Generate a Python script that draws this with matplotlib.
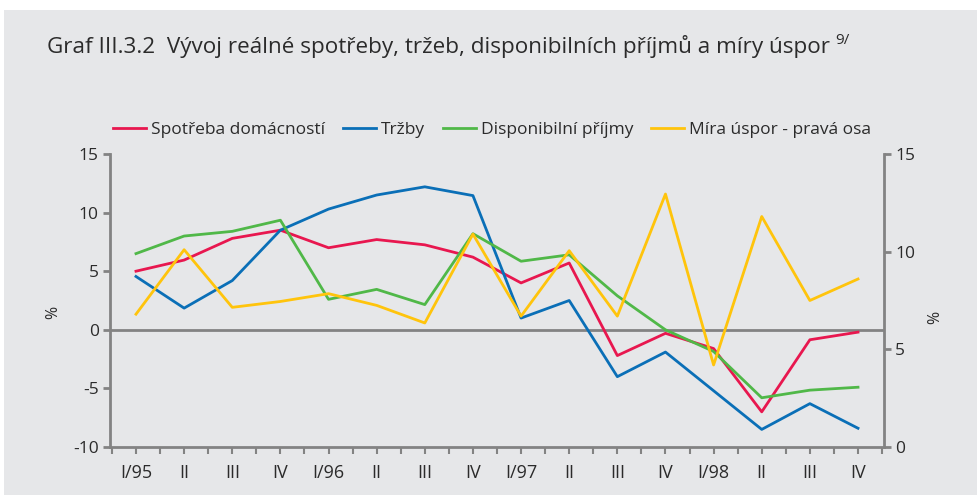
import matplotlib
matplotlib.use("Agg")
import matplotlib.pyplot as plt
from matplotlib import font_manager
from matplotlib.patches import Rectangle

# data
quarters = ["I/95", "II", "III", "IV", "I/96", "II", "III", "IV",
            "I/97", "II", "III", "IV", "I/98", "II", "III", "IV"]
spotreba = [5.0, 5.95, 7.8, 8.5, 7.0, 7.7, 7.25, 6.2,
            4.0, 5.7, -2.2, -0.3, -1.6, -7.0, -0.85, -0.2]
trzby = [4.55, 1.85, 4.2, 8.5, 10.3, 11.5, 12.2, 11.45,
         1.0, 2.5, -4.0, -1.9, -5.2, -8.5, -6.3, -8.4]
prijmy = [6.5, 8.0, 8.4, 9.35, 2.6, 3.45, 2.15, 8.2,
          5.85, 6.4, 2.9, 0.0, -1.85, -5.8, -5.15, -4.9]
mira_uspor = [6.8, 10.1, 7.15, 7.45, 7.85, 7.25, 6.35, 10.9,
              6.7, 10.05, 6.7, 12.95, 4.2, 11.8, 7.5, 8.6]

left_ticks = [-10, -5, 0, 5, 10, 15]
right_ticks = [0, 5, 10, 15]

RED = "#e8174f"
BLUE = "#0a6fb7"
GREEN = "#50b848"
YELLOW = "#ffc40c"
BG = "#e6e7e9"
AXIS = "#838383"
TEXT = "#2b2b2b"

installed = {f.name for f in font_manager.fontManager.ttflist}
family = [f for f in ["Liberation Sans Narrow", "Open Sans", "DejaVu Sans"] if f in installed]
plt.rcParams["font.family"] = family + ["DejaVu Sans"]
plt.rcParams["axes.unicode_minus"] = False

fig = plt.figure(figsize=(9.78, 4.95), dpi=100, facecolor=BG)
fig.patches.append(Rectangle((0, 1 - 10 / 495), 1, 10 / 495, transform=fig.transFigure,
                             facecolor="white", edgecolor="none", zorder=0))
fig.patches.append(Rectangle((0, 0), 4 / 978, 1, transform=fig.transFigure,
                             facecolor="white", edgecolor="none", zorder=0))

ax = fig.add_axes([110 / 978, 1 - 447 / 495, (884 - 110) / 978, (447 - 154) / 495])
ax.set_facecolor(BG)
ax2 = ax.twinx()

x = list(range(len(quarters)))
lw = 2.0
ax.plot(x, spotreba, color=RED, lw=lw, label="Spotřeba domácností", zorder=3)
ax.plot(x, trzby, color=BLUE, lw=lw, label="Tržby", zorder=3)
ax.plot(x, prijmy, color=GREEN, lw=lw, label="Disponibilní příjmy", zorder=3)
ax2.plot(x, mira_uspor, color=YELLOW, lw=lw, label="Míra úspor - pravá osa", zorder=3)

ax.axhline(0, color=AXIS, lw=2, zorder=2)

ax.set_xlim(-0.54, 15.54)
ax.set_ylim(-10, 15)
ax2.set_ylim(0, 15)
ax.set_yticks(left_ticks)
ax2.set_yticks(right_ticks)
ax.set_xticks(x)
ax.set_xticks([i + 0.5 for i in range(-1, 16)], minor=True)
ax.set_xticklabels(quarters)

for a in (ax, ax2):
    for s in a.spines.values():
        s.set_visible(False)
ax.spines["left"].set_visible(True)
ax.spines["bottom"].set_visible(True)
ax2.spines["right"].set_visible(True)
for s in (ax.spines["left"], ax.spines["bottom"], ax2.spines["right"]):
    s.set_color(AXIS)
    s.set_linewidth(2)

ax.tick_params(axis="y", direction="out", length=5, width=2, color=AXIS,
               labelsize=12.5, labelcolor=TEXT, pad=3)
ax2.tick_params(axis="y", direction="out", length=5, width=2, color=AXIS,
                labelsize=12.5, labelcolor=TEXT, pad=3)
ax.tick_params(axis="x", which="both", direction="out", length=5, width=1.5, color=AXIS,
               labelsize=13, labelcolor=TEXT, pad=7)
ax.tick_params(axis="x", which="minor", labelbottom=False)

fig.text(53 / 978, 1 - 312 / 495, "%", rotation=90, ha="center", va="center",
         fontsize=11.5, color=TEXT)
fig.text(935 / 978, 1 - 317 / 495, "%", rotation=90, ha="center", va="center",
         fontsize=11.5, color=TEXT)

title = fig.text(47 / 978, 1 - 46 / 495,
                 "Graf III.3.2  Vývoj reálné spotřeby, tržeb, disponibilních příjmů a míry úspor",
                 ha="left", va="center", fontsize=16.2, color=TEXT)
fig.canvas.draw()
bb = title.get_window_extent()
fig.text((bb.x1 + 5) / 978, 1 - 40 / 495, "9/", ha="left", va="center",
         fontsize=11, color=TEXT)

h1, l1 = ax.get_legend_handles_labels()
h2, l2 = ax2.get_legend_handles_labels()
fig.legend(h1 + h2, l1 + l2, loc="center", bbox_to_anchor=(492 / 978, 1 - 130 / 495),
           ncol=4, frameon=False, fontsize=12.5, handlelength=1.9, handletextpad=0.3,
           columnspacing=1.0, labelcolor=TEXT)

fig.savefig("out.png", dpi=100, facecolor=BG)
